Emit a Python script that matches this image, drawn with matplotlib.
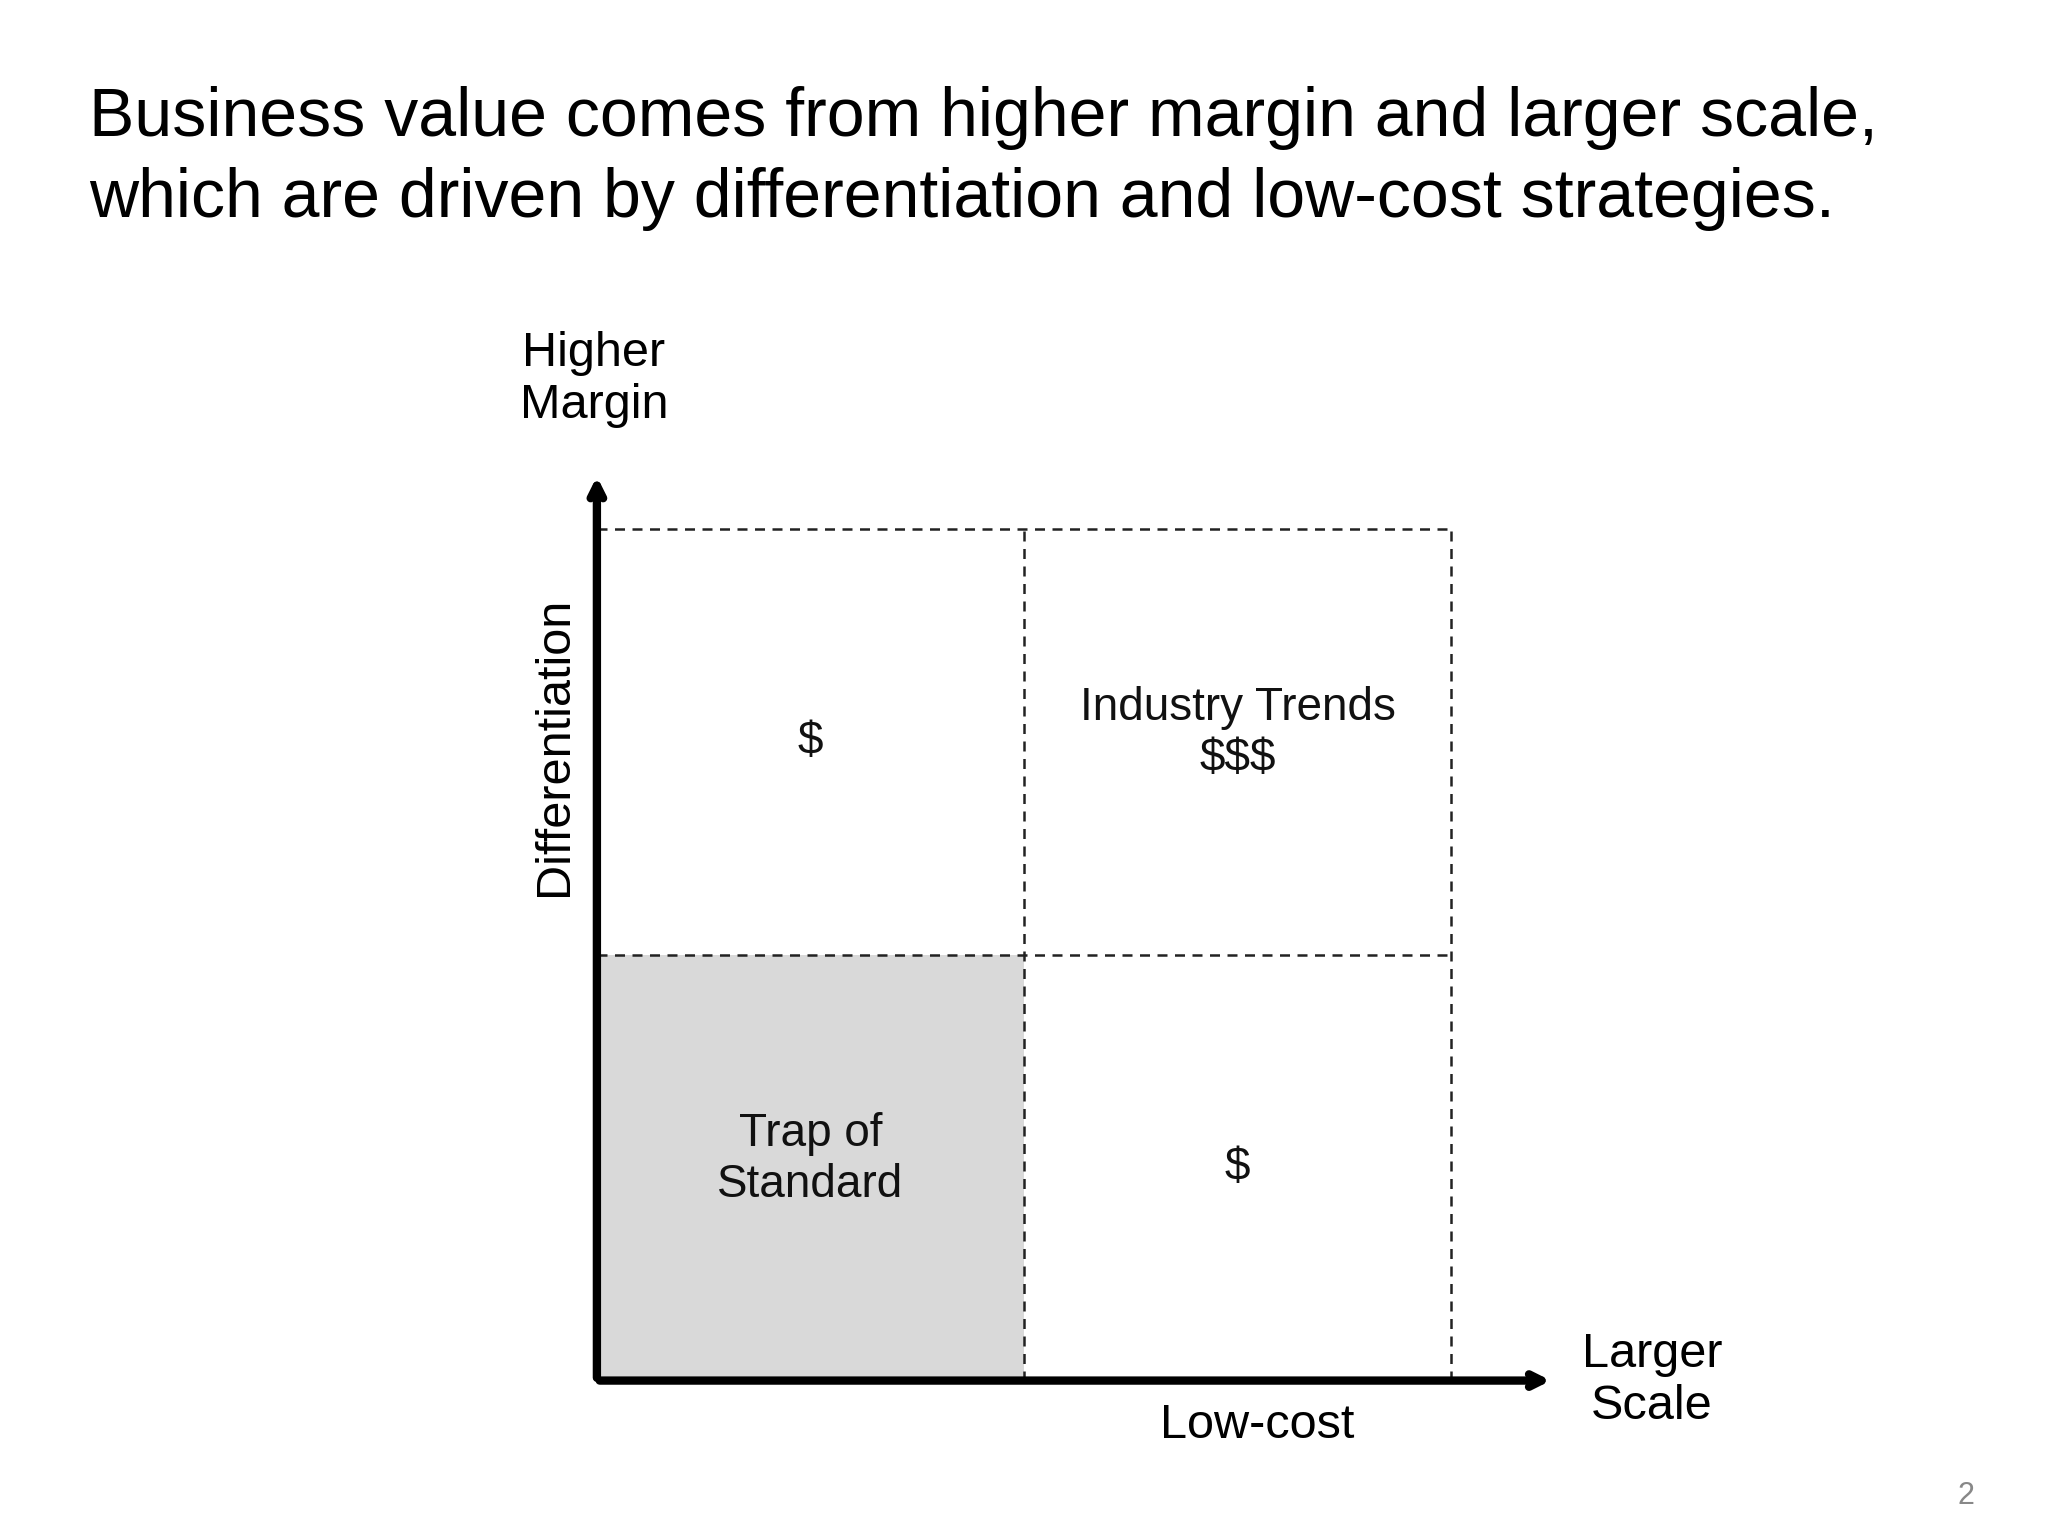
import matplotlib
matplotlib.use("Agg")
import matplotlib.pyplot as plt
from matplotlib.patches import Rectangle

plt.rcParams['font.family'] = ['Liberation Sans', 'DejaVu Sans']

title_lines = ["Business value comes from higher margin and larger scale,",
               "which are driven by differentiation and low-cost strategies."]
quad_x = [0, 1, 0, 1]
quad_y = [1, 1, 0, 0]
quad_labels = ["$", "Industry Trends\n$$$", "Trap of\nStandard", "$"]
quad_fill = [False, False, True, False]
x_label, y_label = "Low-cost", "Differentiation"
x_end_label, y_end_label = "Larger\nScale", "Higher\nMargin"

fig = plt.figure(figsize=(20.48, 15.36), dpi=100)
W, H = 1568, 1176
ax = fig.add_axes([457/W, (H-1057)/H, 654/W, 652/H])
ax.set_xlim(0, 2); ax.set_ylim(0, 2); ax.axis('off')

for x, y, lab, f in zip(quad_x, quad_y, quad_labels, quad_fill):
    if f:
        ax.add_patch(Rectangle((x, y), 1, 1, facecolor='#d9d9d9', edgecolor='none', zorder=0))
    ax.text(x + 0.5, y + (0.52 if "\n" in lab else 0.5), lab, ha='center', va='center',
            fontsize=33, linespacing=1.2, color='#111111')

for v in [1, 2]:
    ax.plot([v, v], [0, 2], ls=(0, (4, 3)), color='#222222', lw=1.8, clip_on=False)
    ax.plot([0, 2], [v, v], ls=(0, (4, 3)), color='#222222', lw=1.8, clip_on=False)

ax.annotate("", xy=(2.24, 0), xytext=(0, 0), annotation_clip=False,
            arrowprops=dict(arrowstyle='->,head_length=0.9,head_width=0.45', lw=6, color='black'))
ax.annotate("", xy=(0, 2.13), xytext=(0, 0), annotation_clip=False,
            arrowprops=dict(arrowstyle='->,head_length=0.9,head_width=0.45', lw=6, color='black'))

ax.text(1.545, -0.105, x_label, ha='center', va='center', fontsize=35, clip_on=False)
ax.text(-0.1, 1.49, y_label, ha='center', va='center', rotation=90, fontsize=35)
ax.text(2.47, 0.0, x_end_label, ha='center', va='center', fontsize=35, linespacing=1.2)
ax.text(-0.007, 2.35, y_end_label, ha='center', va='center', fontsize=35, linespacing=1.2)

fig.text(68/W, 1 - 90/H, title_lines[0], fontsize=49, va='center', ha='left')
fig.text(68/W, 1 - 152/H, title_lines[1], fontsize=49, va='center', ha='left')
fig.text(1505/W, 1 - 1145/H, "2", fontsize=22, color='#888888', ha='center', va='center')

fig.savefig("out.png", dpi=100, facecolor='white')
